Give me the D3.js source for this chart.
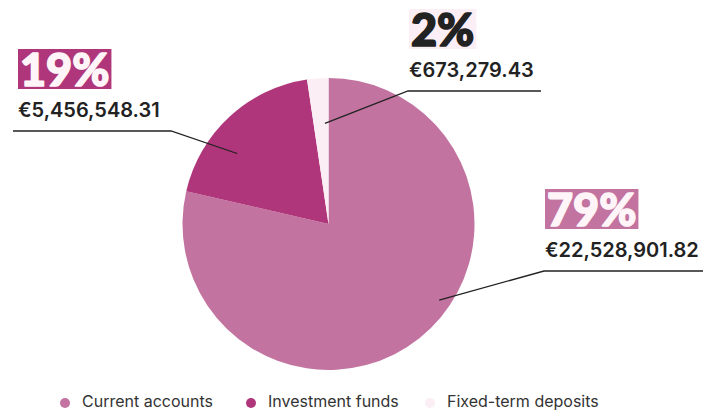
<!DOCTYPE html>
<html>
<head>
<meta charset="utf-8">
<script src="https://cdn.jsdelivr.net/npm/d3@7"></script>
<style>
  html, body { margin: 0; padding: 0; background: #fff; }
  svg { display: block; }
  .amount { font-family: Inter, "DejaVu Sans", sans-serif; font-weight: 600; font-size: 20px; fill: #222; }
  .pct { font-family: Lato, sans-serif; font-weight: 900; font-size: 45px; stroke-width: 1.6; stroke-linejoin: round; }
  .legend text { font-family: Inter, sans-serif; font-size: 16px; fill: #333; }
</style>
</head>
<body>
<div id="chart"></div>
<script>
// data
const categories = ["Current accounts", "Investment funds", "Fixed-term deposits"];
const amounts = [22528901.82, 5456548.31, 673279.43];
const percentLabels = ["79%", "19%", "2%"];
const colors = ["#C2739F", "#AF367A", "#FCEEF5"];

// label layout (box position, leader end x, anchor inside slice)
const labelPos = [
  { x: 545, y: 189, lineEnd: 703, frac: 0.44, rad: 0.92 },
  { x: 18, y: 49, lineEnd: 13, frac: 0.36, rad: 0.79 },
  { x: 409, y: 9, lineEnd: 541, frac: 0.76, rad: 0.69 }
];

const W = 703, H = 411;
const cx = 328.5, cy = 224, R = 146;

const svg = d3.select("#chart").append("svg")
  .attr("width", W).attr("height", H);

const g = svg.append("g").attr("transform", `translate(${cx},${cy})`);

const pie = d3.pie().sort(null).value(d => d);
const arcs = pie(amounts);
const arc = d3.arc().innerRadius(0).outerRadius(R);

g.selectAll("path.slice")
  .data(arcs)
  .enter()
  .append("path")
  .attr("class", "slice")
  .attr("d", arc)
  .attr("fill", (d, i) => colors[i]);

const fmt = d3.format(",.2f");

// labels
arcs.forEach((d, i) => {
  const p = labelPos[i];
  const a = d.startAngle + p.frac * (d.endAngle - d.startAngle);
  const ax = cx + Math.sin(a) * R * p.rad;
  const ay = cy - Math.cos(a) * R * p.rad;
  const ink = i == 2 ? "#222" : "#FFF5F8";

  const lbl = svg.append("g");
  const txt = lbl.append("text")
    .attr("class", "pct")
    .attr("x", p.x + 2)
    .attr("y", p.y + 37)
    .attr("fill", ink)
    .attr("stroke", ink)
    .text(percentLabels[i]);
  const bb = txt.node().getBBox();
  lbl.insert("rect", "text")
    .attr("x", p.x)
    .attr("y", p.y)
    .attr("width", bb.width + 4)
    .attr("height", 40)
    .attr("fill", colors[i]);

  svg.append("text")
    .attr("class", "amount")
    .attr("x", p.x)
    .attr("y", p.y + 68)
    .text("€" + fmt(amounts[i]));

  const ly = p.y + 82;
  const kneeX = i == 1 ? 171 : p.x - 1;
  svg.append("polyline")
    .attr("points", [[p.lineEnd, ly], [kneeX, ly], [ax, ay]].map(q => q.join(",")).join(" "))
    .attr("fill", "none")
    .attr("stroke", "#222")
    .attr("stroke-width", 1.3);
});

// legend
const legendX = [65, 251, 430];
const legend = svg.append("g").attr("class", "legend");
categories.forEach((c, i) => {
  legend.append("circle")
    .attr("cx", legendX[i]).attr("cy", 403).attr("r", 5)
    .attr("fill", colors[i]);
  legend.append("text")
    .attr("x", legendX[i] + 17).attr("y", 407)
    .text(c);
});
</script>
</body>
</html>
